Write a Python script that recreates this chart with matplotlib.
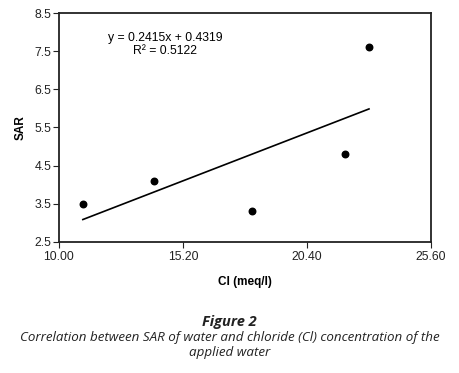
import matplotlib.pyplot as plt

# ============================================================
# DATA
# ============================================================

cl = [11.0, 14.0, 18.1, 22.0, 23.0]
sar = [3.5, 4.1, 3.3, 4.8, 7.6]

slope = 0.2415
intercept = 0.4319
r2 = 0.5122

x_ticks = [10.0, 15.2, 20.4, 25.6]
y_ticks = [2.5, 3.5, 4.5, 5.5, 6.5, 7.5, 8.5]

# ============================================================
# PLOT
# ============================================================

plt.rcParams["font.family"] = ["Liberation Sans", "DejaVu Sans"]

fig = plt.figure(figsize=(4.59, 3.73), dpi=100)
ax = fig.add_axes([59 / 459, 1 - 242 / 373, 372 / 459, 229 / 373])

ax.scatter(cl, sar, s=22, color="black", zorder=3)

x_line = [min(cl), max(cl)]
y_line = [slope * x + intercept for x in x_line]
ax.plot(x_line, y_line, color="black", lw=1.2)

ax.set_xlim(10.0, 25.6)
ax.set_ylim(2.5, 8.5)
ax.set_xticks(x_ticks)
ax.set_xticklabels([f"{t:.2f}" for t in x_ticks])
ax.set_yticks(y_ticks)
ax.set_yticklabels([f"{t:.1f}" for t in y_ticks])
ax.tick_params(labelsize=8.8, colors="#222222", length=4, width=0.8, pad=1.5)
ax.tick_params(axis="x", pad=2.5)
for s in ax.spines.values():
    s.set_linewidth(1.3)
    s.set_color("#222222")

ax.set_xlabel("Cl (meq/l)", fontsize=8.5, fontweight="bold", labelpad=9)
ax.set_ylabel("SAR", fontsize=8.5, fontweight="bold", labelpad=6)

ax.text(0.285, 0.862, f"y = {slope}x + {intercept}\nR² = {r2}",
        transform=ax.transAxes, ha="center", va="center",
        fontsize=8.8, linespacing=1.1)

fig.text(0.5, 1 - 322 / 373, "Figure 2", ha="center", va="center",
         fontsize=10.5, fontweight="bold", style="italic", family="Open Sans",
         color="#222222")
fig.text(0.5, 1 - 345 / 373,
         "Correlation between SAR of water and chloride (Cl) concentration of the\napplied water",
         ha="center", va="center", fontsize=9.6, style="italic",
         family="Open Sans", linespacing=1.25, color="#222222")

fig.savefig("out.png", dpi=100)
